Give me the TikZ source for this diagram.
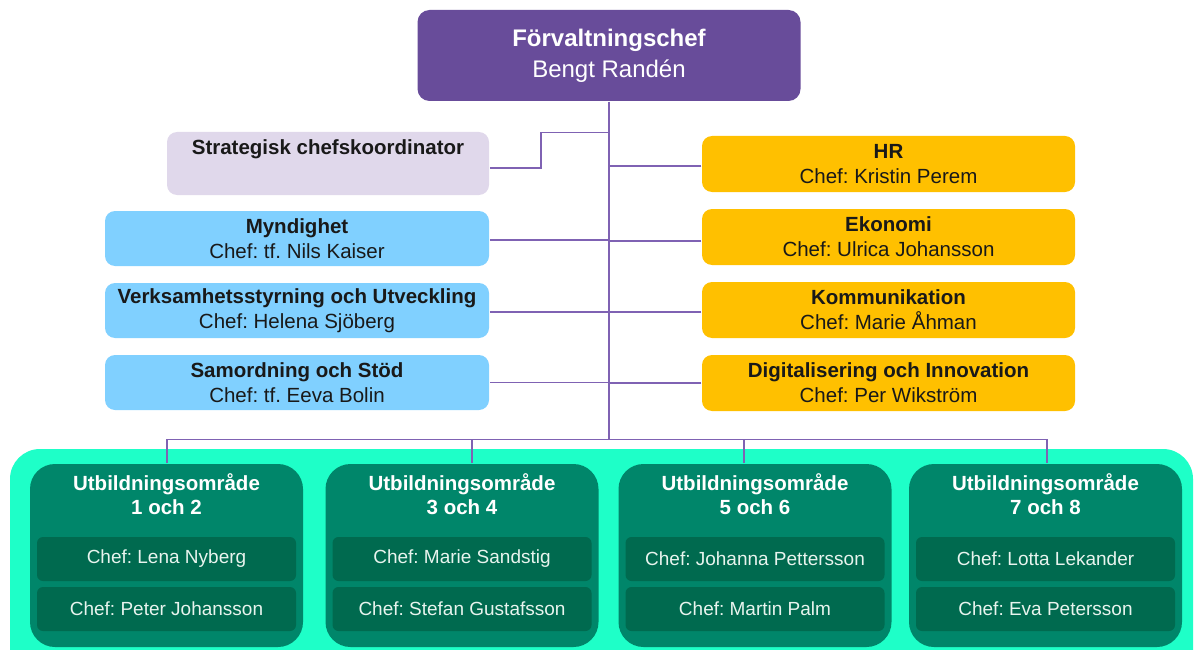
\documentclass[tikz,border=0pt]{standalone}
\usepackage{fontspec}
\setsansfont{Liberation Sans}
\frenchspacing
\definecolor{topcol}{HTML}{684C9A}
\definecolor{linecol}{HTML}{7F62B3}
\definecolor{lavcol}{HTML}{E0D8EB}
\definecolor{bluecol}{HTML}{80D0FF}
\definecolor{goldcol}{HTML}{FFC000}
\definecolor{aquacol}{HTML}{1EFFC8}
\definecolor{areacol}{HTML}{00866A}
\definecolor{subcol}{HTML}{006A4F}
\definecolor{subtext}{HTML}{E8F4EE}

\begin{document}
\begin{tikzpicture}[x=1pt,y=-1pt,node distance=72pt,
		line width=1.5pt,
		main node/.style={rounded corners=10pt,inner sep=0pt,align=center,text=black!90,
			font=\sffamily\frenchspacing\fontsize{20.5}{25}\selectfont},
		top node/.style={main node,fill=topcol,text=white,rounded corners=12pt,
			minimum width=383pt,minimum height=91pt,font=\sffamily\fontsize{24}{31}\selectfont},
		staff node/.style={main node,fill=lavcol,minimum width=322pt,minimum height=63pt},
		left node/.style={main node,fill=bluecol,minimum width=384pt,minimum height=55pt},
		right node/.style={main node,fill=goldcol,minimum width=373pt,minimum height=56pt},
		area node/.style={fill=areacol,rounded corners=25pt,minimum width=273pt,minimum height=183pt},
		title node/.style={main node,text=white,font=\sffamily\bfseries\fontsize{20.5}{24}\selectfont},
		sub node/.style={main node,fill=subcol,text=subtext,rounded corners=6pt,
			minimum width=259pt,minimum height=44pt,font=\sffamily\frenchspacing\fontsize{19}{23}\selectfont}]
	
	\path[use as bounding box,clip] (0,0) rectangle (1194,650);
	\fill[aquacol,rounded corners=30pt] (10,449) rectangle (1193,700);
	
	\node[top node] (1) at (609,55.5) {{\bfseries Förvaltningschef}\\Bengt Randén};
	\node[staff node] (2) at (328,163.5) {{\bfseries Strategisk chefskoordinator}\\\strut};
	
	\node[left node] (3) at (297,238.5) {{\bfseries Myndighet}\\Chef: tf. Nils Kaiser};
	\node[left node] (4) [below of=3] {{\bfseries Verksamhetsstyrning och Utveckling}\\Chef: Helena Sjöberg};
	\node[left node] (5) [below of=4] {{\bfseries Samordning och Stöd}\\Chef: tf. Eeva Bolin};
	
	\node[right node] (6) at (888.5,164) {{\bfseries HR}\\Chef: Kristin Perem};
	\node[right node] (7) [below of=6,node distance=73pt] {{\bfseries Ekonomi}\\Chef: Ulrica Johansson};
	\node[right node] (8) [below of=7,node distance=73pt] {{\bfseries Kommunikation}\\Chef: Marie Åhman};
	\node[right node] (9) [below of=8,node distance=73pt] {{\bfseries Digitalisering och Innovation}\\Chef: Per Wikström};
	
	\node[area node] (10) at (166.5,555.5) {};
	\node[area node] (11) at (462,555.5) {};
	\node[area node] (12) at (755,555.5) {};
	\node[area node] (13) at (1045.5,555.5) {};
	
	\node[title node] (14) at (166.5,494) {Utbildningsområde\\1 och 2};
	\node[title node] (15) at (462,494) {Utbildningsområde\\3 och 4};
	\node[title node] (16) at (755,494) {Utbildningsområde\\5 och 6};
	\node[title node] (17) at (1045.5,494) {Utbildningsområde\\7 och 8};
	
	\node[sub node] (18) at (166.5,559) {Chef: Lena Nyberg};
	\node[sub node] (19) [below of=18,node distance=50pt] {Chef: Peter Johansson};
	\node[sub node] (20) at (462,559) {Chef: Marie Sandstig};
	\node[sub node] (21) [below of=20,node distance=50pt] {Chef: Stefan Gustafsson};
	\node[sub node] (22) at (755,559) {Chef: Johanna Pettersson};
	\node[sub node] (23) [below of=22,node distance=50pt] {Chef: Martin Palm};
	\node[sub node] (24) at (1045.5,559) {Chef: Lotta Lekander};
	\node[sub node] (25) [below of=24,node distance=50pt] {Chef: Eva Petersson};
	
	\coordinate (26) at (609,440);
	
	\path[draw=linecol]
	(1.south) edge (26)
	([yshift=-4.5pt]2.east) edge[to path={-- ++(51,0) |- ([yshift=-31pt]1.south)}] ()
	([yshift=-1.5pt]3.east) edge ([yshift=-1.5pt]3.east -| 1.south)
	([yshift=-1.5pt]4.east) edge ([yshift=-1.5pt]4.east -| 1.south)
	(5.east) edge (5.east -| 1.south)
	([yshift=-2pt]6.west) edge ([yshift=-2pt]6.west -| 1.south)
	([yshift=-4pt]7.west) edge ([yshift=-4pt]7.west -| 1.south)
	([yshift=-2pt]8.west) edge ([yshift=-2pt]8.west -| 1.south)
	(9.west) edge (9.west -| 1.south)
	([xshift=0.5pt]10.north) edge[to path={-- ++(0,-24) -| (\tikztotarget)}] ([xshift=1.5pt]13.north)
	([xshift=10pt]11.north) edge ++(0,-24)
	([xshift=-11pt]12.north) edge ++(0,-24);
\end{tikzpicture}
\end{document}
